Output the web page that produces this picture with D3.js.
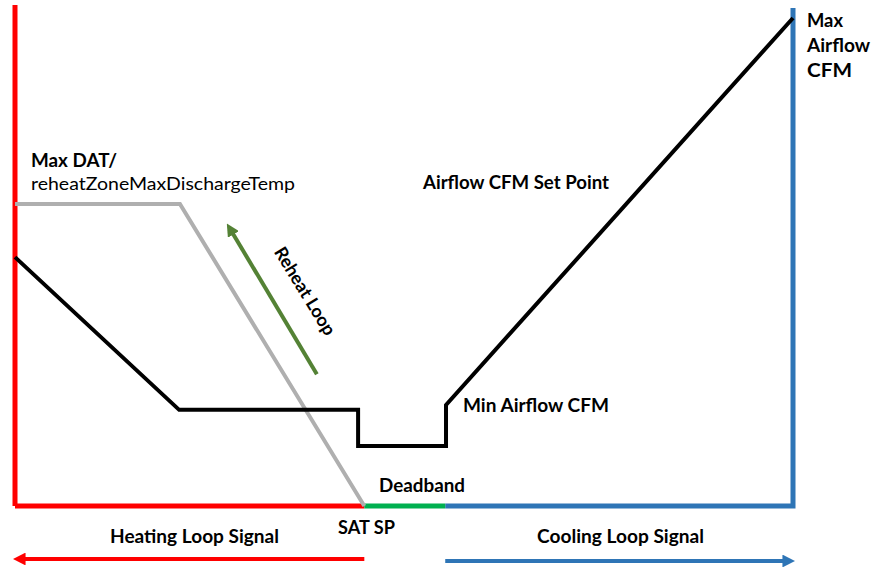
<!DOCTYPE html>
<html><head><meta charset="utf-8">
<script src="https://cdn.jsdelivr.net/npm/d3@7"></script>
<style>body{margin:0;background:#fff}svg{display:block}text{font-family:Lato,"Open Sans",sans-serif;fill:#000}</style>
</head><body>
<script>
// Logical coordinates: x = loop signal position (0 = max heating, 100 = max cooling), y = relative level (0..100)
const airflowX = [0, 21.1, 44.1, 44.1, 55.4, 55.4, 100];
const airflowY = [51.0, 19.7, 19.7, 12.3, 12.3, 20.7, 100];
const datX = [0, 21.2, 44.9];
const datY = [61.9, 61.9, 0];
const heatingRange = [0, 44.9];
const deadbandRange = [44.9, 55.3];
const coolingRange = [55.3, 100];
const reheatArrowX = [38.8, 27.9];
const reheatArrowY = [27.0, 56.1];

const W = 888, H = 574;
const svg = d3.select("body").append("svg").attr("width", W).attr("height", H);
const x = d3.scaleLinear().domain([0, 100]).range([15, 793]);
const y = d3.scaleLinear().domain([0, 100]).range([506, 18]);

const defs = svg.append("defs");
function marker(id, color) {
  defs.append("marker").attr("id", id).attr("viewBox", "0 0 10 10").attr("refX", 2).attr("refY", 5)
    .attr("markerWidth", 3.2).attr("markerHeight", 3.2).attr("orient", "auto")
    .append("path").attr("d", "M0,0 L10,5 L0,10 Z").attr("fill", color);
}
marker("mRed", "#FF0000"); marker("mBlue", "#2E75B6"); marker("mGreen", "#548235");

const line = d3.line().x(d => x(d[0])).y(d => y(d[1]));

// axes
svg.append("path").attr("d", line([[heatingRange[1], 0], [heatingRange[0], 0]]) + "M" + x(0) + "," + y(0) + "V5")
  .attr("fill", "none").attr("stroke", "#FF0000").attr("stroke-width", 5);
svg.append("path").attr("d", line([[coolingRange[0], 0], [coolingRange[1], 0]]) + "V8")
  .attr("fill", "none").attr("stroke", "#2E75B6").attr("stroke-width", 5);
svg.append("path").attr("d", line([[deadbandRange[0], 0], [deadbandRange[1], 0]]))
  .attr("fill", "none").attr("stroke", "#00B050").attr("stroke-width", 5);

// DAT line (gray)
svg.append("path").attr("d", line(datX.map((v, i) => [v, datY[i]])))
  .attr("fill", "none").attr("stroke", "#AFAFAF").attr("stroke-width", 4);

// airflow line (black)
svg.append("path").attr("d", line(airflowX.map((v, i) => [v, airflowY[i]])))
  .attr("fill", "none").attr("stroke", "#000").attr("stroke-width", 4).attr("stroke-linejoin", "miter");

// reheat loop arrow
svg.append("path").attr("d", line(reheatArrowX.map((v, i) => [v, reheatArrowY[i]])))
  .attr("fill", "none").attr("stroke", "#548235").attr("stroke-width", 4).attr("marker-end", "url(#mGreen)");

// bottom arrows
svg.append("line").attr("x1", x(heatingRange[1])).attr("x2", x(0) + 8).attr("y1", 559).attr("y2", 559)
  .attr("stroke", "#FF0000").attr("stroke-width", 4).attr("marker-end", "url(#mRed)");
svg.append("line").attr("x1", x(coolingRange[0])).attr("x2", x(100) - 8).attr("y1", 561).attr("y2", 561)
  .attr("stroke", "#2E75B6").attr("stroke-width", 4).attr("marker-end", "url(#mBlue)");

// labels
function t(txt, px, py, bold, len) {
  return svg.append("text").attr("x", px).attr("y", py).attr("font-size", 18)
    .attr("font-weight", bold ? "bold" : "normal")
    .attr("textLength", len).attr("lengthAdjust", "spacingAndGlyphs").text(txt);
}
t("Max DAT/", 31, 167, true, 86);
t("reheatZoneMaxDischargeTemp", 31, 190, false, 264);
t("Airflow CFM Set Point", 423, 189, true, 186);
t("Min Airflow CFM", 463, 412, true, 146);
t("Deadband", 379, 492, true, 86);
t("SAT SP", 338, 534, true, 57);
t("Heating Loop Signal", 110, 543, true, 169);
t("Cooling Loop Signal", 537, 543, true, 167);
t("Max", 807, 27, true, 36);
t("Airflow", 807, 52, true, 63);
t("CFM", 807, 77, true, 45);
svg.append("text").attr("transform", "translate(305,291) rotate(58.5)").attr("font-size", 18)
  .attr("font-weight", "bold").attr("text-anchor", "middle").attr("dy", "0.35em")
  .attr("textLength", 100).attr("lengthAdjust", "spacingAndGlyphs").text("Reheat Loop");
</script>
</body></html>
